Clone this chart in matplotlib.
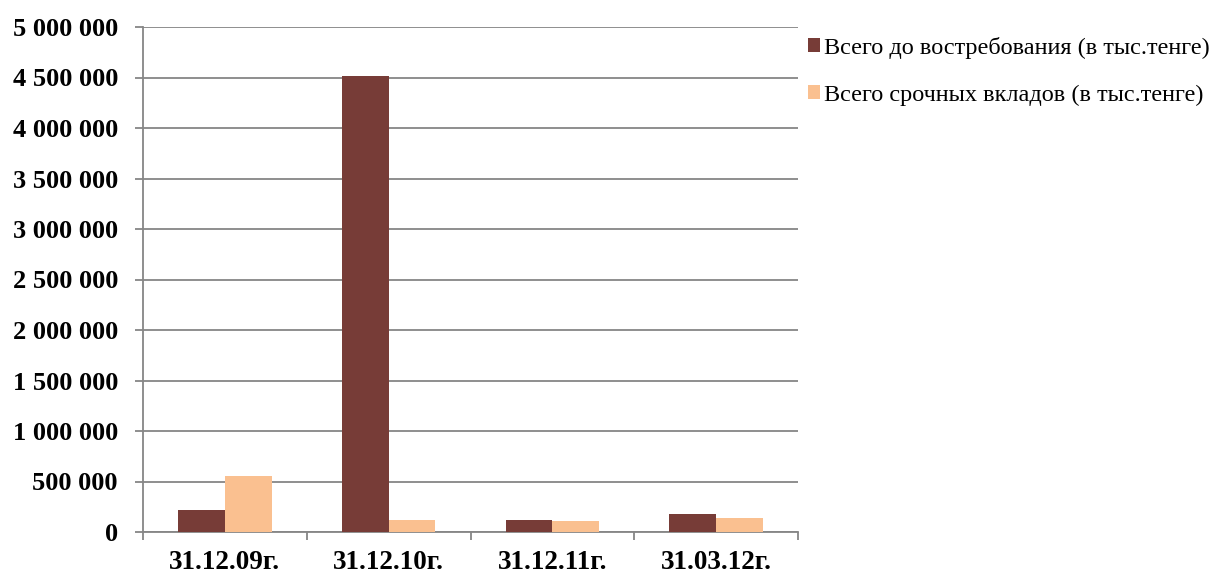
import matplotlib.pyplot as plt
import numpy as np
from matplotlib.ticker import FuncFormatter, FixedLocator

# Данные (тыс. тенге)
dates = ["31.12.09г.", "31.12.10г.", "31.12.11г.", "31.03.12г."]
demand = [222000, 4515000, 119000, 179000]
term = [554000, 119000, 112000, 139000]
labels = ["Всего до востребования (в тыс.тенге)", "Всего срочных вкладов (в тыс.тенге)"]

plt.rcParams['font.family'] = ['Liberation Serif', 'DejaVu Serif']

fig = plt.figure(figsize=(12.21, 5.76), dpi=100)
ax = fig.add_axes([143 / 1221, 44 / 576, 655 / 1221, 505 / 576])

x = np.arange(len(dates))
w = 0.285
ax.bar(x - w / 2, demand, w, color="#773C37", label=labels[0], zorder=3)
ax.bar(x + w / 2, term, w, color="#FAC090", label=labels[1], zorder=3)

ax.set_xlim(-0.5, len(dates) - 0.5)
ax.set_ylim(0, 5000000)
ax.set_yticks(np.arange(0, 5000001, 500000))
ax.yaxis.set_major_formatter(FuncFormatter(lambda v, p: f"{int(v):,}".replace(",", " ")))
ax.grid(axis="y", color="#868686", linewidth=1.3, zorder=0)

ax.set_xticks(x)
ax.set_xticklabels(dates)
ax.xaxis.set_minor_locator(FixedLocator(np.arange(-0.5, len(dates), 1.0)))
ax.tick_params(axis="x", which="major", length=0, pad=13)
ax.tick_params(axis="x", which="minor", length=6, width=1.3, color="#868686")
ax.tick_params(axis="y", length=6, width=1.3, color="#868686", pad=12)
for lab in ax.get_yticklabels():
    lab.set_fontsize(19)
    lab.set_fontweight("bold")
for lab in ax.get_xticklabels():
    lab.set_fontsize(19.5)
    lab.set_fontweight("bold")

for s in ["top", "right"]:
    ax.spines[s].set_visible(False)
for s in ["left", "bottom"]:
    ax.spines[s].set_color("#868686")
    ax.spines[s].set_linewidth(1.3)

fig.legend(loc="upper left", bbox_to_anchor=(808 / 1221, 1 - 37 / 576), frameon=False,
           fontsize=17.5, handlelength=0.5, handleheight=0.5, handletextpad=0.15,
           labelspacing=1.05, borderpad=0, borderaxespad=0)

fig.savefig("out.png", dpi=100)
